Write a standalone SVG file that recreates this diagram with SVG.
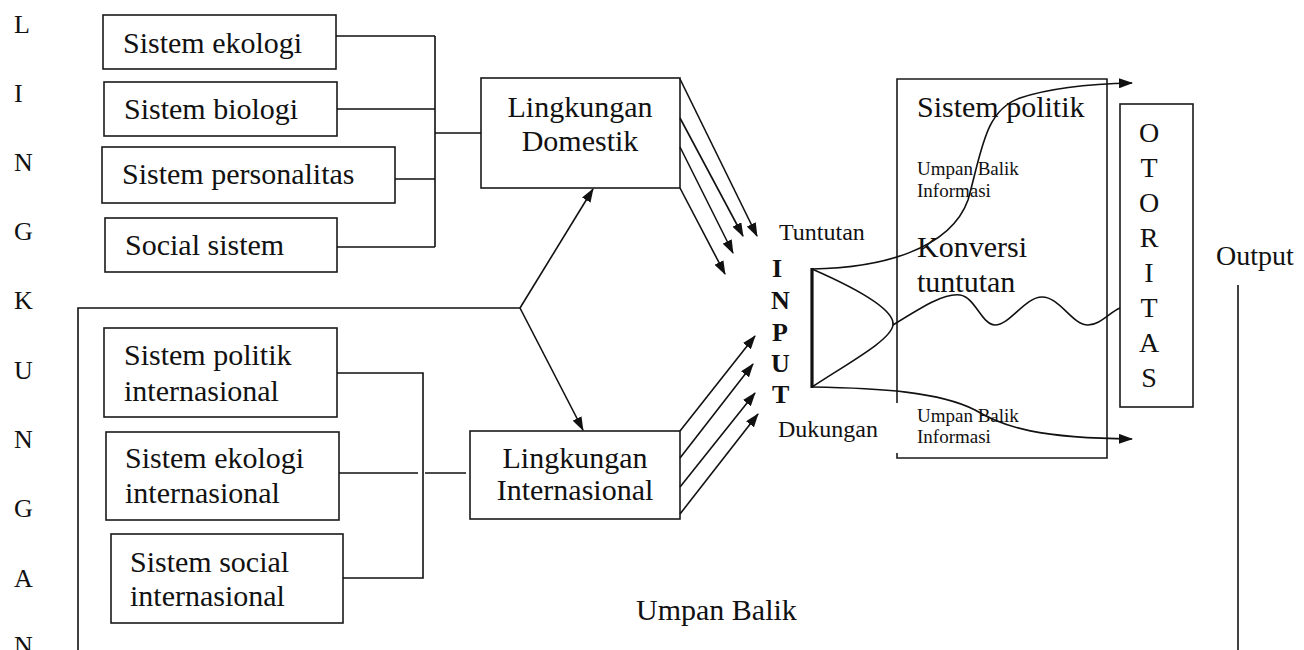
<svg xmlns="http://www.w3.org/2000/svg" width="1304" height="650" viewBox="0 0 1304 650">
  <style>
    .box { fill: none; stroke: #1a1a1a; stroke-width: 1.6; }
    .ln { fill: none; stroke: #111; stroke-width: 1.6; }
    .arr { fill: none; stroke: #111; stroke-width: 1.6; marker-end: url(#head); }
    .t { font-family: "Liberation Serif", "Times New Roman", serif; fill: #111; }
    .lbl { font-size: 30px; }
    .mid { text-anchor: middle; }
    .side { font-size: 26px; }
    .sm { font-size: 19px; }
    .md { font-size: 24px; }
    .inp { font-size: 26px; font-weight: bold; }
  </style>
  <defs>
    <marker id="head" viewBox="0 0 14 10" refX="13" refY="5" markerWidth="14" markerHeight="10" markerUnits="userSpaceOnUse" orient="auto">
      <path d="M0,0 L14,5 L0,10 Z" fill="#111"/>
    </marker>
  </defs>
  <rect width="1304" height="650" fill="#ffffff"/>

  <!-- vertical word down the left edge -->
  <g id="side-word" class="t side">
    <text x="14" y="33">L</text>
    <text x="14" y="102">I</text>
    <text x="14" y="171">N</text>
    <text x="14" y="240">G</text>
    <text x="14" y="309">K</text>
    <text x="14" y="379">U</text>
    <text x="14" y="448">N</text>
    <text x="14" y="517">G</text>
    <text x="14" y="587">A</text>
    <text x="14" y="654">N</text>
  </g>

  <!-- domestic subsystems -->
  <g id="sistem-ekologi">
    <rect class="box" x="103" y="15" width="233" height="54"/>
    <text class="t lbl" x="123" y="53">Sistem ekologi</text>
  </g>
  <g id="sistem-biologi">
    <rect class="box" x="104" y="82" width="233" height="54"/>
    <text class="t lbl" x="124" y="119">Sistem biologi</text>
  </g>
  <g id="sistem-personalitas">
    <rect class="box" x="102" y="147" width="293" height="56"/>
    <text class="t lbl" x="122" y="184">Sistem personalitas</text>
  </g>
  <g id="social-sistem">
    <rect class="box" x="105" y="218" width="232" height="54"/>
    <text class="t lbl" x="125" y="255">Social sistem</text>
  </g>
  <g id="lingkungan-domestik">
    <rect class="box" x="481" y="78" width="199" height="110"/>
    <text class="t lbl mid" x="580" y="117">Lingkungan</text>
    <text class="t lbl mid" x="580" y="151">Domestik</text>
  </g>

  <!-- international subsystems -->
  <g id="sistem-politik-internasional">
    <rect class="box" x="104" y="328" width="233" height="89"/>
    <text class="t lbl" x="124" y="365">Sistem politik</text>
    <text class="t lbl" x="124" y="401">internasional</text>
  </g>
  <g id="sistem-ekologi-internasional">
    <rect class="box" x="106" y="432" width="233" height="88"/>
    <text class="t lbl" x="125" y="468">Sistem ekologi</text>
    <text class="t lbl" x="125" y="503">internasional</text>
  </g>
  <g id="sistem-social-internasional">
    <rect class="box" x="111" y="534" width="232" height="89"/>
    <text class="t lbl" x="130" y="572">Sistem social</text>
    <text class="t lbl" x="130" y="606">internasional</text>
  </g>
  <g id="lingkungan-internasional">
    <rect class="box" x="470" y="431" width="210" height="88"/>
    <text class="t lbl mid" x="575" y="468">Lingkungan</text>
    <text class="t lbl mid" x="575" y="500">Internasional</text>
  </g>

  <!-- input labels -->
  <g id="input" class="t">
    <text class="md" x="779" y="240">Tuntutan</text>
    <text class="inp" x="772" y="277">I</text>
    <text class="inp" x="771" y="309">N</text>
    <text class="inp" x="772" y="341">P</text>
    <text class="inp" x="771" y="372">U</text>
    <text class="inp" x="772" y="403">T</text>
    <text class="md" x="778" y="437">Dukungan</text>
  </g>

  <!-- political system -->
  <g id="sistem-politik">
    <path class="box" d="M897,403 V79 H1107 V458 H897 V453"/>
    <text class="t lbl" x="917" y="117">Sistem politik</text>
    <text class="t sm" x="917" y="175">Umpan Balik</text>
    <text class="t sm" x="917" y="197">Informasi</text>
    <text class="t lbl" x="917" y="257">Konversi</text>
    <text class="t lbl" x="917" y="292">tuntutan</text>
    <text class="t sm" x="917" y="422">Umpan Balik</text>
    <text class="t sm" x="917" y="443">Informasi</text>
  </g>

  <g id="otoritas">
    <rect class="box" x="1120" y="104" width="73" height="303"/>
    <g class="t mid" font-size="28">
      <text x="1149" y="142">O</text>
      <text x="1149" y="177">T</text>
      <text x="1149" y="212">O</text>
      <text x="1149" y="247">R</text>
      <text x="1149" y="282">I</text>
      <text x="1149" y="317">T</text>
      <text x="1149" y="352">A</text>
      <text x="1149" y="387">S</text>
    </g>
  </g>

  <g id="output">
    <text class="t" font-size="28" x="1216" y="265">Output</text>
  </g>

  <g id="umpan-balik">
    <text class="t lbl" x="636" y="620">Umpan Balik</text>
  </g>

  <g id="connectors">
    <!-- domestic subsystems bracket -->
    <path class="ln" d="M336,36 H435 M337,109 H435 M395,179 H435 M337,247 H435 M435,36 V247 M435,133 H481"/>
    <!-- international subsystems bracket -->
    <path class="ln" d="M337,373 H423 V578 H343 M339,473 H418 M425,473 H466"/>
    <!-- feedback loop -->
    <path class="ln" d="M78,650 V308 H520"/>
    <path class="ln" d="M1238,285 V650"/>
    <path class="arr" d="M520,308 L593,189"/>
    <path class="arr" d="M520,308 L583,430"/>
    <!-- demands -->
    <path class="arr" d="M680,79 L757,236"/>
    <path class="arr" d="M680,118 L743,236"/>
    <path class="arr" d="M680,147 L733,253"/>
    <path class="arr" d="M680,188 L725,274"/>
    <!-- supports -->
    <path class="arr" d="M680,431 L755,336"/>
    <path class="arr" d="M680,458 L753,364"/>
    <path class="arr" d="M680,487 L755,393"/>
    <path class="arr" d="M680,514 L758,414"/>
    <!-- input funnel -->
    <path fill="none" stroke="#111" stroke-width="3.2" d="M812,268 V388"/>
    <path class="ln" d="M812,269 C860,290 895,310 893,325 C891,340 850,362 812,387"/>
    <!-- conversion wave into authority -->
    <path class="ln" d="M893,325 C925,305 945,293 960,295 C975,297 982,325 995,325 C1010,325 1025,297 1042,297 C1060,297 1072,325 1088,325 C1100,325 1110,312 1120,308"/>
    <!-- feedback curves -->
    <path class="arr" d="M812,269 C880,268 950,250 968,200 C982,150 985,110 1020,98 C1050,88 1085,84 1132,83"/>
    <path class="arr" d="M812,387 C880,388 940,392 975,410 C1005,428 1040,438 1132,439"/>
  </g>
</svg>
